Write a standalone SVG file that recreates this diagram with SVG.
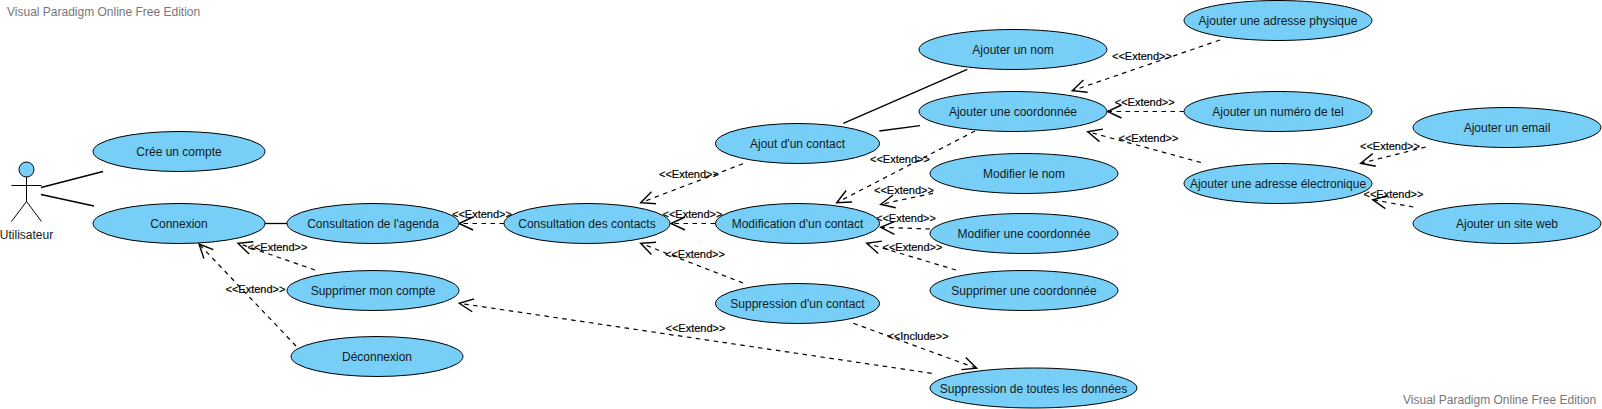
<svg xmlns="http://www.w3.org/2000/svg" width="1602" height="409" viewBox="0 0 1602 409">
<style>
text{font-family:"Liberation Sans",Arial,sans-serif}
.uc{fill:#77cef6;stroke:#000;stroke-width:1}
.t{font-size:12px;fill:#111c24;text-anchor:middle}
.l{font-size:11px;fill:#000;stroke:#000;stroke-width:.2;text-anchor:middle}
.wm{font-size:12px;fill:#777}
.a{fill:none;stroke:#000;stroke-width:1.3}
.d{fill:none;stroke:#000;stroke-width:1.2;stroke-dasharray:4.5 4.5;marker-end:url(#o)}
</style>
<defs>
<marker id="o" markerUnits="userSpaceOnUse" markerWidth="18" markerHeight="18" refX="15" refY="8" orient="auto" overflow="visible">
<path d="M1,1.5L15,8L1,14.5" fill="none" stroke="#000" stroke-width="1.4"/>
</marker>
</defs>
<rect width="1602" height="409" fill="#fff"/>
<text class="wm" x="7" y="16">Visual Paradigm Online Free Edition</text>
<text class="wm" x="1403" y="404">Visual Paradigm Online Free Edition</text>
<g id="connectors">
<path class="a" d="M41,187.5L103,171.5"/>
<path class="a" d="M41,194.5L94,206"/>
<path class="a" d="M265,223.5H287"/>
<path class="a" d="M843.3,123.3L967.3,69.3"/>
<path class="a" d="M879.3,131L920,125.7"/>
<path class="d" d="M315,270L238,243.3"/>
<path class="d" d="M296,346L199,244"/>
<path class="d" d="M504,223.5H459"/>
<path class="d" d="M715,223.5H671"/>
<path class="d" d="M743,163.7L640.7,202.7"/>
<path class="d" d="M743,283L640.7,243.3"/>
<path class="d" d="M975,131L836.7,202.7"/>
<path class="d" d="M933,193.3L880.7,204.3"/>
<path class="d" d="M930,229L880.7,227.3"/>
<path class="d" d="M956,270L866.7,243.3"/>
<path class="d" d="M853.3,323.3L976.7,368.3"/>
<path class="d" d="M931.7,373.3L459.3,303.3"/>
<path class="d" d="M1220,40L1072.3,90.7"/>
<path class="d" d="M1184,111.5H1107.5"/>
<path class="d" d="M1201,162.5L1087.7,131.7"/>
<path class="d" d="M1425.7,147L1360.7,163.3"/>
<path class="d" d="M1413.3,207L1372.7,199.7"/>
<g id="labels">
<text class="l" x="482" y="218">&lt;&lt;Extend&gt;&gt;</text>
<text class="l" x="277.5" y="251">&lt;&lt;Extend&gt;&gt;</text>
<text class="l" x="255.5" y="293">&lt;&lt;Extend&gt;&gt;</text>
<text class="l" x="689" y="178">&lt;&lt;Extend&gt;&gt;</text>
<text class="l" x="692.5" y="218">&lt;&lt;Extend&gt;&gt;</text>
<text class="l" x="695" y="258">&lt;&lt;Extend&gt;&gt;</text>
<text class="l" x="695.5" y="332">&lt;&lt;Extend&gt;&gt;</text>
<text class="l" x="918" y="340">&lt;&lt;Include&gt;&gt;</text>
<text class="l" x="900" y="163">&lt;&lt;Extend&gt;&gt;</text>
<text class="l" x="904" y="194">&lt;&lt;Extend&gt;&gt;</text>
<text class="l" x="906" y="222">&lt;&lt;Extend&gt;&gt;</text>
<text class="l" x="912.5" y="251">&lt;&lt;Extend&gt;&gt;</text>
<text class="l" x="1142" y="60">&lt;&lt;Extend&gt;&gt;</text>
<text class="l" x="1144.7" y="106">&lt;&lt;Extend&gt;&gt;</text>
<text class="l" x="1148.5" y="142">&lt;&lt;Extend&gt;&gt;</text>
<text class="l" x="1390" y="150">&lt;&lt;Extend&gt;&gt;</text>
<text class="l" x="1393.5" y="198">&lt;&lt;Extend&gt;&gt;</text>
</g>
</g>
<g id="actor">
<circle class="uc" cx="26.5" cy="169.5" r="7.5"/>
<path fill="none" stroke="#000" d="M26.5,177V201.5M11.5,185.5H41.5M11.5,221.5L26.5,201.5L41.5,221.5"/>
<text class="t" x="26.5" y="239">Utilisateur</text>
</g>
<g id="n1"><ellipse class="uc" cx="179" cy="151.5" rx="86" ry="20"/><text class="t" x="179" y="156">Crée un compte</text></g>
<g id="n2"><ellipse class="uc" cx="179" cy="223.5" rx="86" ry="20"/><text class="t" x="179" y="228">Connexion</text></g>
<g id="n3"><ellipse class="uc" cx="373" cy="223.5" rx="86" ry="20"/><text class="t" x="373" y="228">Consultation de l'agenda</text></g>
<g id="n4"><ellipse class="uc" cx="373" cy="290.5" rx="86" ry="20"/><text class="t" x="373" y="295">Supprimer mon compte</text></g>
<g id="n5"><ellipse class="uc" cx="377" cy="356.5" rx="86" ry="20"/><text class="t" x="377" y="361">Déconnexion</text></g>
<g id="n6"><ellipse class="uc" cx="587" cy="223.5" rx="83" ry="20"/><text class="t" x="587" y="228">Consultation des contacts</text></g>
<g id="n7"><ellipse class="uc" cx="797.5" cy="143.5" rx="82" ry="20"/><text class="t" x="797.5" y="148">Ajout d'un contact</text></g>
<g id="n8"><ellipse class="uc" cx="797.5" cy="223.5" rx="82" ry="20"/><text class="t" x="797.5" y="228">Modification d'un contact</text></g>
<g id="n9"><ellipse class="uc" cx="797.5" cy="303.5" rx="82" ry="20"/><text class="t" x="797.5" y="308">Suppression d'un contact</text></g>
<g id="n10"><ellipse class="uc" cx="1013" cy="49.5" rx="94" ry="20"/><text class="t" x="1013" y="54">Ajouter un nom</text></g>
<g id="n11"><ellipse class="uc" cx="1013" cy="111.5" rx="94" ry="20"/><text class="t" x="1013" y="116">Ajouter une coordonnée</text></g>
<g id="n12"><ellipse class="uc" cx="1024" cy="173.5" rx="94" ry="20"/><text class="t" x="1024" y="178">Modifier le nom</text></g>
<g id="n13"><ellipse class="uc" cx="1024" cy="233.5" rx="94" ry="20"/><text class="t" x="1024" y="238">Modifier une coordonnée</text></g>
<g id="n14"><ellipse class="uc" cx="1024" cy="290.5" rx="94" ry="20"/><text class="t" x="1024" y="295">Supprimer une coordonnée</text></g>
<g id="n15"><ellipse class="uc" cx="1033.5" cy="388" rx="103.5" ry="20"/><text class="t" x="1033.5" y="392.5">Suppression de toutes les données</text></g>
<g id="n16"><ellipse class="uc" cx="1278" cy="20.5" rx="94" ry="20"/><text class="t" x="1278" y="25">Ajouter une adresse physique</text></g>
<g id="n17"><ellipse class="uc" cx="1278" cy="111.5" rx="94" ry="20"/><text class="t" x="1278" y="116">Ajouter un numéro de tel</text></g>
<g id="n18"><ellipse class="uc" cx="1278" cy="183.5" rx="94" ry="20"/><text class="t" x="1278" y="188">Ajouter une adresse électronique</text></g>
<g id="n19"><ellipse class="uc" cx="1507" cy="127.5" rx="94" ry="20"/><text class="t" x="1507" y="132">Ajouter un email</text></g>
<g id="n20"><ellipse class="uc" cx="1507" cy="223.5" rx="94" ry="20"/><text class="t" x="1507" y="228">Ajouter un site web</text></g>
</svg>
